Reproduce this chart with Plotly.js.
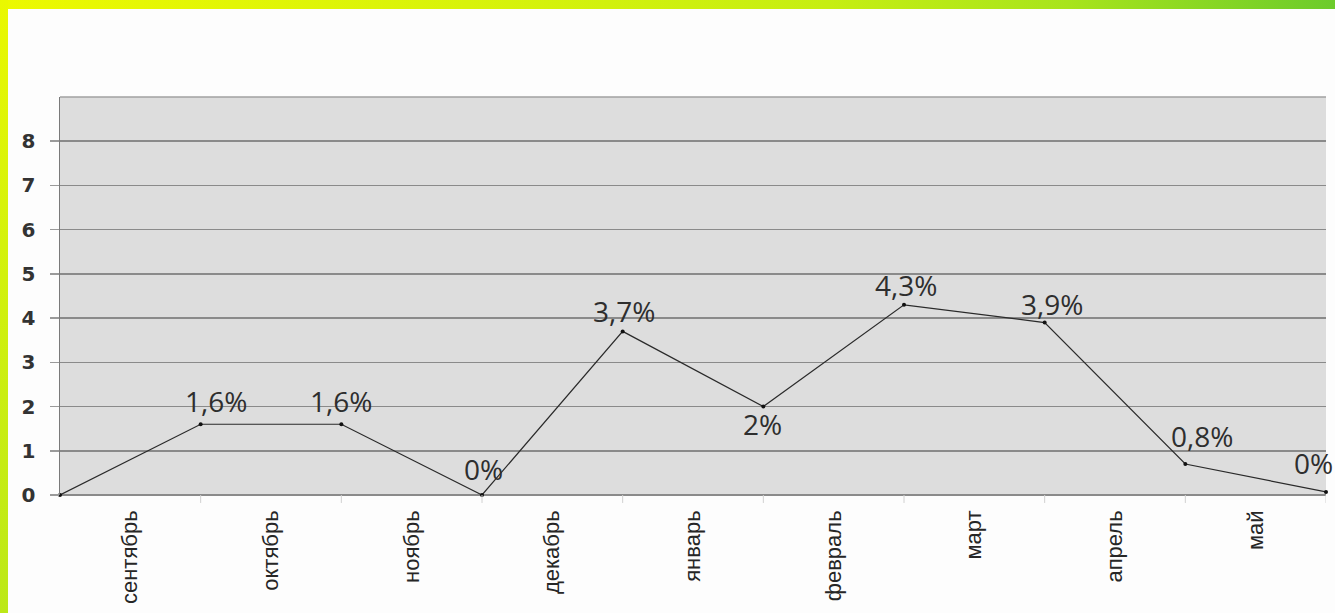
<!DOCTYPE html>
<html>
<head>
<meta charset="utf-8">
<script src="https://cdn.plot.ly/plotly-3.0.1.min.js"></script>
<style>
  html, body { margin:0; padding:0; background:#fdfdfd; width:1335px; height:613px; overflow:hidden; }
  #topbar { position:absolute; left:0; top:0; width:1335px; height:9px;
    background: linear-gradient(to right, #ecf900 0%, #d8f30a 35%, #c6ee12 62%, #a8e41c 80%, #6ccb2c 100%); z-index:2; }
  #leftbar { position:absolute; left:0; top:0; width:8px; height:613px;
    background: linear-gradient(to bottom, #eaf800 0%, #d4f20c 40%, #bce818 100%); z-index:2; }
  #chart { position:absolute; left:0; top:0; width:1335px; height:613px; }
</style>
</head>
<body>
<div id="topbar"></div>
<div id="leftbar"></div>
<div id="chart"></div>
<script>
// Months shown between the points
const months = ["сентябрь","октябрь","ноябрь","декабрь","январь","февраль","март","апрель","май"];
// Point positions (boundaries between months) and values
const pointIndex = [0,1,2,3,4,5,6,7,8,9];
const values = [0, 1.6, 1.6, 0, 3.7, 2.0, 4.3, 3.9, 0.7, 0.07];
const pointLabels = ["", "1,6%", "1,6%", "0%", "3,7%", "2%", "4,3%", "3,9%", "0,8%", "0%"];
const yTicks = [0,1,2,3,4,5,6,7,8];
const monthPos = months.map((m, i) => i + 0.5);

// label placement offsets (pixels) relative to each point
const labelDX = [0, 15, 0, 1, 1, -1, 2, 7, 17, -13];
const labelDY = [0, 21, 21, 24, 18, -19, 18, 17, 26, 27];

const trace = {
  x: pointIndex,
  y: values,
  mode: "lines+markers",
  line: {color: "#2a2a2a", width: 1.2},
  marker: {color: "#111", size: 4},
  cliponaxis: false,
  hoverinfo: "skip",
  showlegend: false
};

const annotations = pointIndex.filter(i => pointLabels[i] !== "").map(i => ({
  x: pointIndex[i], y: values[i], xref: "x", yref: "y",
  text: pointLabels[i], showarrow: false,
  xanchor: "center", yanchor: "middle",
  xshift: labelDX[i], yshift: labelDY[i] + 2,
  font: {family: "Open Sans, sans-serif", size: 28, color: "#2e2e2e"}
}));

const layout = {
  width: 1335, height: 613,
  margin: {l: 60, r: 9, t: 97, b: 118},
  paper_bgcolor: "rgba(0,0,0,0)",
  plot_bgcolor: "#dddddd",
  showlegend: false,
  annotations: annotations,
  xaxis: {
    range: [0, 9],
    tickmode: "array",
    tickvals: monthPos,
    ticktext: months,
    tickangle: -90,
    ticks: "",
    ticklabelstandoff: 10,
    showgrid: false,
    zeroline: false,
    showline: false,
    tickfont: {family: "Liberation Sans Narrow, Arial Narrow, Liberation Sans, sans-serif", size: 22, color: "#262626"},
    automargin: false,
    fixedrange: true
  },
  yaxis: {
    range: [0, 9],
    tickmode: "array",
    tickvals: yTicks,
    ticktext: yTicks.map(String),
    ticks: "outside",
    ticklen: 9,
    tickcolor: "#9a9a9a",
    tickwidth: 1.5,
    ticklabelstandoff: 10,
    showgrid: true,
    gridcolor: "#8a8a8a",
    gridwidth: 1.5,
    zeroline: true,
    zerolinecolor: "#8a8a8a",
    zerolinewidth: 1.5,
    showline: true,
    linecolor: "#7a7a7a",
    linewidth: 1.5,
    mirror: false,
    tickfont: {family: "DejaVu Sans, sans-serif", size: 20, color: "#333", weight: "bold"},
    automargin: false,
    fixedrange: true
  },
  shapes: [
    {type: "line", xref: "paper", yref: "paper", x0: 0, x1: 1, y0: 1, y1: 1,
     line: {color: "#a0a0a0", width: 1.5}}
  ].concat(pointIndex.slice(1).map(i => ({
    type: "line", xref: "x", yref: "paper", x0: i, x1: i, y0: 0, y1: -0.02,
    line: {color: "#d0d0d0", width: 1}
  })))
};

Plotly.newPlot("chart", [trace], layout, {displayModeBar: false, staticPlot: true});
</script>
</body>
</html>
